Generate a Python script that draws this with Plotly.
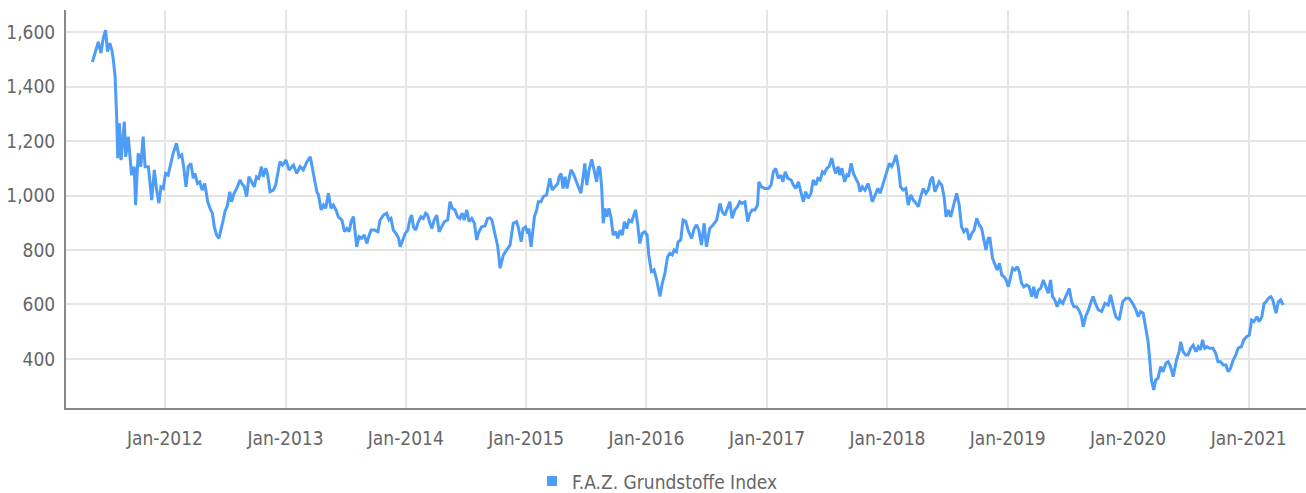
import plotly.graph_objects as go

# F.A.Z. Grundstoffe Index, sampled closes
dates_2011 = ["2011-05-26", "2011-06-13", "2011-06-21", "2011-06-28", "2011-07-05", "2011-07-11",
              "2011-07-18", "2011-07-24", "2011-07-28", "2011-08-03", "2011-08-08", "2011-08-11",
              "2011-08-16", "2011-08-21", "2011-08-31", "2011-09-04", "2011-09-12", "2011-09-17",
              "2011-09-22", "2011-09-30", "2011-10-04", "2011-10-12", "2011-10-20", "2011-10-27",
              "2011-11-02", "2011-11-12", "2011-11-22", "2011-11-30", "2011-12-07", "2011-12-14",
              "2011-12-20", "2011-12-27"]
values_2011 = [1490, 1564, 1523, 1577, 1607, 1528, 1559, 1534, 1504, 1436, 1277, 1137,
               1265, 1130, 1271, 1142, 1216, 1130, 1075, 1106, 965, 1155, 1106, 1216,
               1106, 1106, 983, 1094, 1020, 972, 1032, 1026]

dates_2012 = ["2012-01-03", "2012-01-11", "2012-01-19", "2012-01-26", "2012-02-05", "2012-02-13",
              "2012-02-21", "2012-02-27", "2012-03-05", "2012-03-12", "2012-03-20", "2012-03-27",
              "2012-04-01", "2012-04-09", "2012-04-16", "2012-04-23", "2012-05-01", "2012-05-10",
              "2012-05-17", "2012-05-24", "2012-05-30", "2012-06-06", "2012-06-13", "2012-06-21",
              "2012-06-26", "2012-07-01", "2012-07-09", "2012-07-16", "2012-07-21", "2012-07-29",
              "2012-08-06", "2012-08-16", "2012-08-21", "2012-08-29", "2012-09-05", "2012-09-12",
              "2012-09-20", "2012-09-28", "2012-10-05", "2012-10-12", "2012-10-20", "2012-10-25",
              "2012-11-02", "2012-11-08", "2012-11-15", "2012-11-25", "2012-12-02", "2012-12-08",
              "2012-12-15", "2012-12-23"]
values_2012 = [1081, 1075, 1118, 1155, 1192, 1142, 1149, 1106, 1032, 1106, 1118, 1063,
               1081, 1044, 1050, 1020, 1044, 977, 953, 935, 885, 855, 843, 879,
               910, 940, 965, 1014, 977, 1008, 1026, 1057, 1044, 1032, 996, 1069,
               1050, 1032, 1069, 1063, 1106, 1069, 1100, 1075, 1014, 1020, 1038, 1081,
               1124, 1112]

dates_2013 = ["2013-01-02", "2013-01-12", "2013-01-25", "2013-02-04", "2013-02-14", "2013-02-24",
              "2013-03-07", "2013-03-17", "2013-03-22", "2013-03-30", "2013-04-06", "2013-04-11",
              "2013-04-19", "2013-04-26", "2013-05-03", "2013-05-11", "2013-05-19", "2013-05-26",
              "2013-06-03", "2013-06-10", "2013-06-21", "2013-06-29", "2013-07-06", "2013-07-13",
              "2013-07-19", "2013-07-26", "2013-07-31", "2013-08-05", "2013-08-12", "2013-08-20",
              "2013-08-28", "2013-09-05", "2013-09-12", "2013-09-18", "2013-09-28", "2013-10-08",
              "2013-10-15", "2013-10-25", "2013-11-04", "2013-11-11", "2013-11-17", "2013-11-24",
              "2013-12-02", "2013-12-10", "2013-12-15", "2013-12-22", "2013-12-30"]
values_2013 = [1130, 1094, 1112, 1081, 1106, 1094, 1124, 1142, 1106, 1063, 1014, 1002,
               947, 965, 953, 1008, 953, 965, 947, 922, 910, 867, 879, 867,
               904, 922, 873, 812, 849, 843, 855, 824, 855, 873, 873, 867,
               910, 928, 935, 910, 916, 873, 861, 843, 812, 837, 861]

dates_2014 = ["2014-01-07", "2014-01-14", "2014-01-19", "2014-01-24", "2014-01-31", "2014-02-08",
              "2014-02-16", "2014-02-23", "2014-03-02", "2014-03-08", "2014-03-15", "2014-03-21",
              "2014-03-28", "2014-04-05", "2014-04-12", "2014-04-20", "2014-04-28", "2014-05-08",
              "2014-05-15", "2014-05-22", "2014-05-30", "2014-06-07", "2014-06-14", "2014-06-21",
              "2014-06-27", "2014-07-05", "2014-07-12", "2014-07-20", "2014-07-28", "2014-08-04",
              "2014-08-09", "2014-08-19", "2014-08-29", "2014-09-06", "2014-09-13", "2014-09-19",
              "2014-09-29", "2014-10-07", "2014-10-14", "2014-10-24", "2014-11-03", "2014-11-13",
              "2014-11-23", "2014-12-03", "2014-12-08", "2014-12-17", "2014-12-23", "2014-12-30"]
values_2014 = [873, 916, 928, 885, 873, 904, 922, 916, 935, 928, 898, 879,
               910, 928, 867, 885, 904, 910, 977, 953, 947, 922, 916, 935,
               910, 947, 904, 916, 898, 837, 861, 885, 888, 916, 918, 910,
               861, 812, 733, 782, 800, 818, 898, 904, 885, 830, 879, 885]

dates_2015 = ["2015-01-06", "2015-01-09", "2015-01-16", "2015-01-20", "2015-01-26", "2015-02-02",
              "2015-02-07", "2015-02-15", "2015-02-22", "2015-03-04", "2015-03-09", "2015-03-14",
              "2015-03-21", "2015-03-29", "2015-04-07", "2015-04-11", "2015-04-17", "2015-04-23",
              "2015-04-29", "2015-05-05", "2015-05-11", "2015-05-17", "2015-05-24", "2015-05-31",
              "2015-06-08", "2015-06-16", "2015-06-23", "2015-06-28", "2015-07-04", "2015-07-11",
              "2015-07-19", "2015-07-27", "2015-08-03", "2015-08-08", "2015-08-13", "2015-08-18",
              "2015-08-23", "2015-08-28", "2015-09-03", "2015-09-09", "2015-09-15", "2015-09-22",
              "2015-09-30", "2015-10-06", "2015-10-13", "2015-10-20", "2015-10-26", "2015-11-02",
              "2015-11-09", "2015-11-17", "2015-11-23", "2015-11-29", "2015-12-05", "2015-12-12",
              "2015-12-19", "2015-12-27"]
values_2015 = [861, 879, 812, 861, 922, 947, 977, 977, 996, 1002, 1038, 1063,
               1020, 1032, 1044, 1069, 1081, 1026, 1069, 1026, 1057, 1094, 1081, 1057,
               1032, 1008, 1069, 1118, 1038, 1094, 1133, 1094, 1050, 1106, 1100, 1032,
               898, 953, 922, 953, 922, 855, 867, 843, 873, 855, 904, 879,
               910, 904, 922, 947, 898, 824, 861, 867]

dates_2016 = ["2016-01-03", "2016-01-08", "2016-01-16", "2016-01-24", "2016-02-01", "2016-02-05",
              "2016-02-11", "2016-02-18", "2016-02-26", "2016-03-05", "2016-03-12", "2016-03-19",
              "2016-03-25", "2016-04-01", "2016-04-06", "2016-04-14", "2016-04-21", "2016-04-29",
              "2016-05-07", "2016-05-17", "2016-05-25", "2016-06-01", "2016-06-08", "2016-06-16",
              "2016-06-24", "2016-07-01", "2016-07-11", "2016-07-21", "2016-08-01", "2016-08-11",
              "2016-08-18", "2016-08-26", "2016-09-03", "2016-09-10", "2016-09-17", "2016-09-25",
              "2016-10-03", "2016-10-10", "2016-10-17", "2016-10-26", "2016-11-03", "2016-11-10",
              "2016-11-17", "2016-11-25", "2016-12-03", "2016-12-07", "2016-12-15", "2016-12-25"]
values_2016 = [855, 782, 721, 727, 690, 665, 629, 678, 714, 775, 788, 782,
               800, 794, 830, 837, 910, 905, 870, 843, 879, 892, 873, 818,
               898, 812, 879, 892, 910, 971, 940, 928, 953, 977, 916, 947,
               959, 977, 971, 977, 904, 935, 947, 947, 965, 1050, 1032, 1026]

dates_2017 = ["2017-01-05", "2017-01-13", "2017-01-20", "2017-01-27", "2017-02-04", "2017-02-12",
              "2017-02-18", "2017-02-25", "2017-03-05", "2017-03-15", "2017-03-22", "2017-03-29",
              "2017-04-06", "2017-04-14", "2017-04-21", "2017-04-28", "2017-05-06", "2017-05-14",
              "2017-05-21", "2017-05-29", "2017-06-04", "2017-06-11", "2017-06-18", "2017-06-24",
              "2017-07-01", "2017-07-08", "2017-07-16", "2017-07-22", "2017-07-28", "2017-08-04",
              "2017-08-10", "2017-08-16", "2017-08-24", "2017-08-31", "2017-09-05", "2017-09-13",
              "2017-09-20", "2017-09-27", "2017-10-05", "2017-10-10", "2017-10-17", "2017-10-25",
              "2017-11-03", "2017-11-10", "2017-11-16", "2017-11-25", "2017-12-03", "2017-12-10",
              "2017-12-20", "2017-12-26"]
values_2017 = [1026, 1038, 1087, 1100, 1063, 1075, 1050, 1087, 1063, 1057, 1038, 1026,
               1050, 1014, 977, 1014, 990, 1008, 1057, 1038, 1063, 1057, 1087, 1081,
               1100, 1106, 1137, 1106, 1081, 1106, 1075, 1100, 1050, 1075, 1069, 1118,
               1081, 1063, 1044, 1014, 1032, 1020, 1044, 1014, 977, 1002, 1026, 1008,
               1045, 1075]

dates_2018 = ["2018-01-07", "2018-01-14", "2018-01-21", "2018-01-27", "2018-02-03", "2018-02-10",
              "2018-02-18", "2018-02-26", "2018-03-05", "2018-03-13", "2018-03-21", "2018-03-29",
              "2018-04-05", "2018-04-12", "2018-04-20", "2018-04-28", "2018-05-05", "2018-05-12",
              "2018-05-18", "2018-05-25", "2018-06-01", "2018-06-07", "2018-06-15", "2018-06-22",
              "2018-06-28", "2018-07-05", "2018-07-12", "2018-07-18", "2018-07-25", "2018-07-30",
              "2018-08-07", "2018-08-14", "2018-08-21", "2018-08-30", "2018-09-06", "2018-09-14",
              "2018-09-21", "2018-09-29", "2018-10-07", "2018-10-14", "2018-10-21", "2018-10-27",
              "2018-11-03", "2018-11-08", "2018-11-16", "2018-11-23", "2018-11-30", "2018-12-07",
              "2018-12-14", "2018-12-21", "2018-12-27"]
values_2018 = [1118, 1106, 1124, 1149, 1106, 1032, 1020, 1026, 965, 1002, 983, 971,
               959, 996, 1026, 1008, 1020, 1057, 1069, 1014, 1032, 1050, 1038, 996,
               922, 947, 922, 953, 983, 1008, 965, 885, 867, 879, 837, 861,
               873, 916, 892, 879, 837, 800, 843, 843, 769, 745, 727, 751,
               708, 702, 690]

dates_2019 = ["2019-01-03", "2019-01-10", "2019-01-16", "2019-01-23", "2019-01-30", "2019-02-05",
              "2019-02-12", "2019-02-19", "2019-02-27", "2019-03-07", "2019-03-15", "2019-03-21",
              "2019-03-28", "2019-04-04", "2019-04-11", "2019-04-19", "2019-04-27", "2019-05-04",
              "2019-05-11", "2019-05-17", "2019-05-24", "2019-05-31", "2019-06-08", "2019-06-17",
              "2019-06-24", "2019-07-01", "2019-07-07", "2019-07-14", "2019-07-21", "2019-07-29",
              "2019-08-06", "2019-08-13", "2019-08-18", "2019-08-26", "2019-09-03", "2019-09-13",
              "2019-09-17", "2019-09-26", "2019-10-03", "2019-10-13", "2019-10-23", "2019-11-02",
              "2019-11-09", "2019-11-17", "2019-11-25", "2019-12-05", "2019-12-16", "2019-12-26"]
values_2019 = [665, 708, 733, 727, 739, 721, 678, 665, 672, 665, 629, 665,
               623, 653, 659, 690, 665, 641, 690, 629, 617, 592, 617, 604,
               623, 641, 659, 610, 592, 592, 577, 555, 518, 558, 580, 617,
               629, 598, 580, 574, 604, 598, 635, 592, 555, 543, 610, 623]

dates_2020 = ["2020-01-04", "2020-01-15", "2020-01-25", "2020-02-01", "2020-02-08", "2020-02-16",
              "2020-02-24", "2020-03-02", "2020-03-07", "2020-03-12", "2020-03-19", "2020-03-25",
              "2020-04-01", "2020-04-09", "2020-04-16", "2020-04-25", "2020-05-02", "2020-05-09",
              "2020-05-17", "2020-05-27", "2020-06-04", "2020-06-09", "2020-06-16", "2020-06-24",
              "2020-07-01", "2020-07-09", "2020-07-17", "2020-07-25", "2020-08-01", "2020-08-08",
              "2020-08-14", "2020-08-21", "2020-08-28", "2020-09-05", "2020-09-15", "2020-09-23",
              "2020-09-30", "2020-10-08", "2020-10-16", "2020-10-24", "2020-10-31", "2020-11-07",
              "2020-11-15", "2020-11-23", "2020-11-30", "2020-12-10", "2020-12-17", "2020-12-26"]
values_2020 = [623, 604, 580, 555, 574, 568, 512, 463, 396, 323, 286, 323,
               329, 372, 353, 384, 390, 372, 335, 396, 427, 463, 427, 415,
               415, 439, 451, 427, 445, 433, 470, 439, 445, 439, 439, 421,
               390, 390, 378, 378, 353, 366, 396, 415, 439, 445, 470, 482]

dates_2021 = ["2021-01-03", "2021-01-10", "2021-01-17", "2021-01-26", "2021-02-02", "2021-02-10",
              "2021-02-17", "2021-02-23", "2021-03-02", "2021-03-09", "2021-03-15", "2021-03-19",
              "2021-03-25", "2021-04-01", "2021-04-08", "2021-04-16"]
values_2021 = [488, 543, 537, 555, 537, 555, 604, 610, 623, 629, 617, 598,
               568, 610, 617, 598]

dates = (dates_2011 + dates_2012 + dates_2013 + dates_2014 + dates_2015 + dates_2016
         + dates_2017 + dates_2018 + dates_2019 + dates_2020 + dates_2021)
values = (values_2011 + values_2012 + values_2013 + values_2014 + values_2015 + values_2016
          + values_2017 + values_2018 + values_2019 + values_2020 + values_2021)

series_name = "F.A.Z. Grundstoffe Index"
y_ticks = [400, 600, 800, 1000, 1200, 1400, 1600]

LINE_COLOR = "#4d9cf7"
FONT = "DejaVu Sans Condensed, Liberation Sans Narrow, sans-serif"
TEXT_COLOR = "#666666"

fig = go.Figure()
fig.add_trace(go.Scatter(
    x=dates, y=values, mode="lines", name=series_name,
    line=dict(color=LINE_COLOR, width=3), showlegend=False, legendgroup="idx",
))
# legend entry drawn as a square swatch
fig.add_trace(go.Scatter(
    x=[None], y=[None], mode="markers", name=series_name, legendgroup="idx",
    marker=dict(symbol="square", size=10, color=LINE_COLOR),
))

fig.update_layout(
    width=1306, height=493,
    margin=dict(l=66, r=0, t=10, b=85, autoexpand=False),
    paper_bgcolor="white", plot_bgcolor="white",
    font=dict(family=FONT, size=19, color=TEXT_COLOR),
    legend=dict(orientation="h", x=0.477, xanchor="center", y=-0.184, yanchor="middle",
                font=dict(size=19, color=TEXT_COLOR), itemwidth=30, tracegroupgap=0),
)
fig.update_xaxes(
    type="date", range=["2011-03-07", "2021-06-24"],
    tick0="2012-01-01", dtick="M12", tickformat="%b-%Y",
    showgrid=True, gridcolor="#e5e5e5", gridwidth=2,
    showline=True, linecolor="#888888", linewidth=2,
    ticks="outside", ticklen=12, tickcolor="rgba(0,0,0,0)",
    zeroline=False,
)
fig.update_yaxes(
    range=[220, 1681], tickvals=y_ticks, tickformat=",d",
    showgrid=True, gridcolor="#e5e5e5", gridwidth=2,
    showline=True, linecolor="#888888", linewidth=2,
    ticks="outside", ticklen=5, tickcolor="rgba(0,0,0,0)",
    zeroline=False,
)

fig.write_html("out.html")
